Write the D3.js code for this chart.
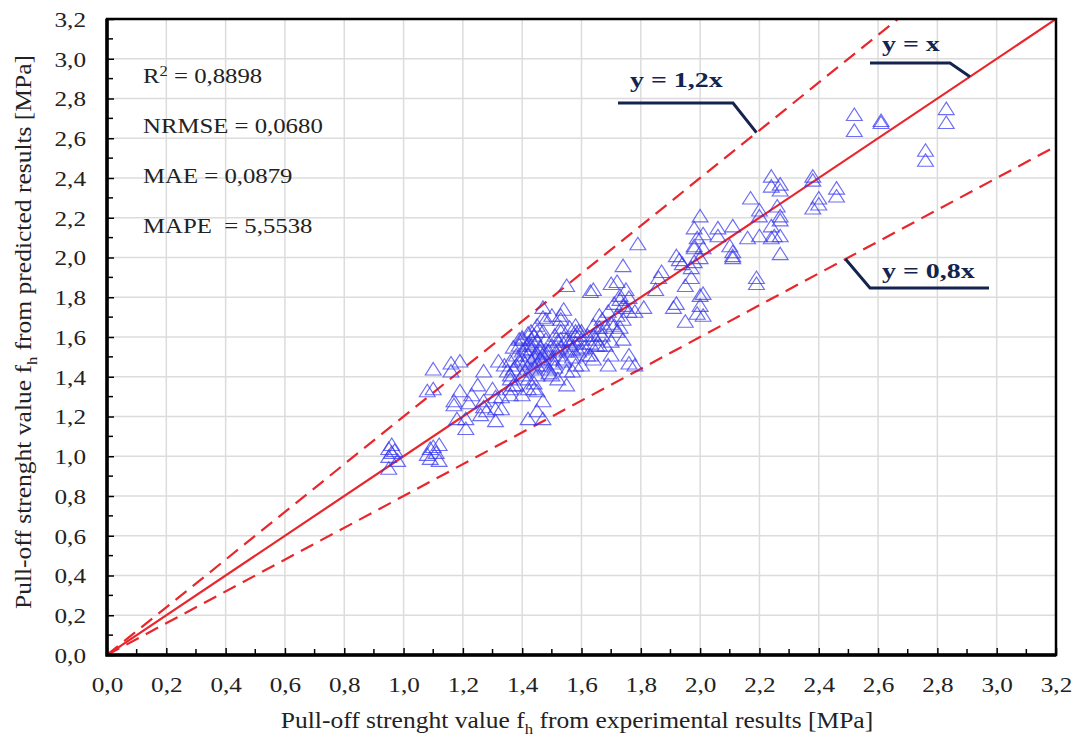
<!DOCTYPE html>
<html>
<head>
<meta charset="utf-8">
<script src="https://cdn.jsdelivr.net/npm/d3@7"></script>
<style>
  body { margin: 0; background: #fff; }
  svg text { font-family: "Liberation Serif", "Times New Roman", serif; }
  .grid line { stroke: #dcdcdc; stroke-width: 1.5; }
  .tick-label { font-size: 21px; fill: #222; }
  .stat { font-size: 21px; fill: #222; }
  .callout { font-size: 22px; font-weight: bold; fill: #14244f; }
</style>
</head>
<body>
<svg width="1075" height="736"></svg>
<script>
// experimental (x) vs predicted (y) pull-off strength
const expValues = [
  0.95, 0.96, 0.97, 0.95, 0.98, 0.95, 0.96,
  1.09, 1.12, 1.09, 1.12, 1.11, 1.08, 1.10,
  1.10, 1.16, 1.19, 1.16, 1.08, 1.10, 1.17, 1.19, 1.17, 1.27, 1.25, 1.23, 1.27, 1.28, 1.31, 1.31,
  1.18, 1.21, 1.26, 1.22, 1.21, 1.30, 1.31, 1.33, 1.27, 1.36, 1.37, 1.32, 1.35, 1.36, 1.33,
  1.36, 1.40, 1.45, 1.47, 1.47, 1.55, 1.42, 1.45, 1.44, 1.42,
  1.55, 1.47, 1.47, 1.54, 1.53, 1.53, 1.58, 1.59, 1.43, 1.40, 1.37, 1.63,
  1.40, 1.43, 1.45, 1.48, 1.52, 1.56, 1.58, 1.36, 1.38, 1.40, 1.43, 1.45, 1.47, 1.49, 1.54, 1.55, 1.58,
  1.38, 1.39, 1.40, 1.41, 1.42, 1.42, 1.43, 1.43, 1.44, 1.44, 1.45, 1.45, 1.46, 1.46, 1.47, 1.47, 1.48, 1.48,
  1.49, 1.50, 1.50, 1.51, 1.51, 1.52, 1.52, 1.53, 1.53, 1.54, 1.55, 1.55, 1.56, 1.56, 1.57, 1.58, 1.58, 1.59,
  1.60, 1.61, 1.62, 1.63, 1.64, 1.65, 1.66, 1.67, 1.68, 1.69, 1.70, 1.71, 1.72, 1.73, 1.74, 1.75, 1.76, 1.72,
  1.40, 1.42, 1.44, 1.37, 1.50, 1.52, 1.57, 1.60, 1.62, 1.64, 1.68, 1.70, 1.45, 1.48, 1.50, 1.53, 1.36, 1.34, 1.38,
  1.41, 1.43, 1.44, 1.46, 1.39, 1.41, 1.48, 1.51, 1.53, 1.42, 1.45, 1.49, 1.57, 1.60, 1.65, 1.39,
  1.79, 1.74, 1.64, 1.70, 1.72, 1.75, 1.73, 1.76, 1.74, 1.81, 1.78,
  1.66, 1.66, 1.67, 1.64, 1.70, 1.71, 1.73, 1.74, 1.76, 1.69, 1.76, 1.60, 1.63, 1.66, 1.78, 1.85,
  1.87, 1.86, 1.92, 1.93, 1.94, 1.97, 1.98, 2.00, 1.98, 1.99, 2.01, 1.97, 1.95, 1.92, 1.91, 1.95,
  2.01, 2.00, 1.99, 2.01, 2.00, 2.00, 1.98, 1.98, 2.01,
  2.10, 2.11, 2.11, 2.16, 2.20, 2.24, 2.27, 2.27, 2.19, 2.19, 2.06, 2.06, 2.11, 2.11,
  2.17, 2.20, 2.20, 2.26, 2.27, 2.27, 2.24, 2.25,
  2.24, 2.24, 2.27, 2.27, 2.38, 2.38, 2.46, 2.46, 2.38, 2.40, 2.40,
  2.52, 2.52, 2.61, 2.61, 2.83, 2.83, 2.76, 2.76
];
const predValues = [
  1.03, 1.05, 1.02, 0.99, 0.97, 0.93, 1.01,
  1.03, 1.05, 0.98, 0.97, 1.01, 1.00, 1.04,
  1.43, 1.46, 1.47, 1.42, 1.32, 1.33, 1.27, 1.32, 1.25, 1.42, 1.35, 1.30, 1.27, 1.22, 1.23, 1.17,
  1.18, 1.18, 1.20, 1.26, 1.13, 1.33, 1.29, 1.23, 1.24, 1.30, 1.35, 1.47, 1.42, 1.38, 1.29,
  1.33, 1.30, 1.32, 1.27, 1.18, 1.35, 1.18, 1.22, 1.33, 1.33,
  1.85, 1.74, 1.69, 1.73, 1.68, 1.64, 1.65, 1.62, 1.62, 1.58, 1.54, 1.82,
  1.59, 1.55, 1.62, 1.53, 1.53, 1.57, 1.60, 1.47, 1.45, 1.48, 1.43, 1.40, 1.47, 1.43, 1.48, 1.42, 1.45,
  1.50, 1.55, 1.52, 1.46, 1.50, 1.56, 1.53, 1.47, 1.60, 1.44, 1.51, 1.57, 1.48, 1.54, 1.62, 1.50, 1.45, 1.58,
  1.52, 1.55, 1.48, 1.60, 1.44, 1.57, 1.50, 1.62, 1.54, 1.47, 1.58, 1.52, 1.64, 1.55, 1.49, 1.56, 1.62, 1.52,
  1.58, 1.54, 1.60, 1.56, 1.65, 1.58, 1.62, 1.68, 1.64, 1.72, 1.66, 1.76, 1.70, 1.78, 1.68, 1.74, 1.72, 1.62,
  1.40, 1.38, 1.36, 1.43, 1.40, 1.38, 1.42, 1.45, 1.50, 1.48, 1.55, 1.50, 1.65, 1.68, 1.70, 1.70, 1.40, 1.45, 1.35,
  1.53, 1.58, 1.49, 1.52, 1.47, 1.42, 1.51, 1.46, 1.58, 1.61, 1.45, 1.41, 1.53, 1.62, 1.55, 1.58,
  2.06, 1.95, 1.83, 1.86, 1.87, 1.83, 1.80, 1.79, 1.75, 1.74, 1.72,
  1.70, 1.64, 1.60, 1.60, 1.57, 1.65, 1.64, 1.58, 1.50, 1.45, 1.46, 1.53, 1.50, 1.55, 1.45, 1.83,
  1.92, 1.89, 2.00, 1.98, 1.96, 1.94, 1.97, 1.99, 2.04, 2.09, 2.11, 1.89, 1.85, 1.76, 1.74, 1.67,
  1.81, 1.75, 1.71, 1.70, 1.80, 2.20, 2.14, 2.05, 2.04,
  2.05, 2.02, 1.99, 2.09, 2.10, 2.09, 2.10, 2.01, 1.89, 1.86, 2.14, 2.10, 2.15, 2.00,
  2.29, 2.23, 2.20, 2.25, 2.20, 2.18, 2.15, 2.10,
  2.40, 2.35, 2.36, 2.33, 2.40, 2.24, 2.34, 2.30, 2.38, 2.29, 2.26,
  2.71, 2.63, 2.68, 2.67, 2.74, 2.67, 2.53, 2.48
];
const points = expValues.map((x, i) => ({ x: x, y: predValues[i] }));

const tickValues = d3.range(0, 3.21, 0.2);
const minorTicks = d3.range(0.1, 3.2, 0.2);
const statLines = ['NRMSE = 0,0680', 'MAE = 0,0879', 'MAPE  = 5,5538'];
const refLines = [
  { k: 1, dashed: false },
  { k: 1.2, dashed: true },
  { k: 0.8, dashed: true }
];

// the source picture is stretched sideways, so text gets a horizontal scale
const SX = 1.2;

const svg = d3.select('svg');
const margin = { left: 107, top: 19, right: 19, bottom: 81 };
const W = 1075 - margin.left - margin.right;
const H = 736 - margin.top - margin.bottom;

const x = d3.scaleLinear().domain([0, 3.2]).range([0, W]);
const y = d3.scaleLinear().domain([0, 3.2]).range([H, 0]);
const fmt = d => d3.format('.1f')(d).replace('.', ',');

const g = svg.append('g').attr('transform', `translate(${margin.left},${margin.top})`);

// grid
g.append('g').attr('class', 'grid')
  .selectAll('line.v').data(tickValues.slice(1, -1)).join('line')
  .attr('x1', d => x(d)).attr('x2', d => x(d)).attr('y1', 0).attr('y2', H);
g.append('g').attr('class', 'grid')
  .selectAll('line.h').data(tickValues.slice(1, -1)).join('line')
  .attr('y1', d => y(d)).attr('y2', d => y(d)).attr('x1', 0).attr('x2', W);

// reference lines, clipped to plot
svg.append('defs').append('clipPath').attr('id', 'plotclip')
  .append('rect').attr('width', W).attr('height', H);
const lines = g.append('g').attr('clip-path', 'url(#plotclip)');
lines.selectAll('line').data(refLines).join('line')
  .attr('x1', x(0)).attr('y1', y(0))
  .attr('x2', d => x(3.2)).attr('y2', d => y(3.2 * d.k))
  .attr('stroke', '#e8262c')
  .attr('stroke-width', 2.2)
  .attr('stroke-dasharray', d => d.dashed ? '14,8' : null);

// points
g.append('g').selectAll('path').data(points).join('path')
  .attr('transform', d => `translate(${x(d.x)},${y(d.y)}) scale(1.1,1)`)
  .attr('d', d3.symbol(d3.symbolTriangle, 90))
  .attr('fill', 'none')
  .attr('stroke', '#3030ee')
  .attr('stroke-opacity', 0.7)
  .attr('stroke-width', 1.1);

// axes with inward ticks
const xAxis = g.append('g').attr('transform', `translate(0,${H})`);
xAxis.call(d3.axisBottom(x).tickValues(tickValues).tickSize(-7).tickFormat(fmt))
  .call(a => a.select('.domain').remove());
xAxis.selectAll('.tick line').attr('stroke', '#000').attr('stroke-width', 1.5);
xAxis.selectAll('.tick text').attr('class', 'tick-label')
  .attr('y', 0).attr('dy', '0.71em')
  .attr('transform', `translate(0,22) scale(${SX},1)`);
xAxis.selectAll('line.minor').data(minorTicks).join('line').attr('class', 'minor')
  .attr('x1', d => x(d)).attr('x2', d => x(d)).attr('y1', 0).attr('y2', -6)
  .attr('stroke', '#000').attr('stroke-width', 1.5);

const yAxis = g.append('g');
yAxis.call(d3.axisLeft(y).tickValues(tickValues).tickSize(-7).tickFormat(fmt))
  .call(a => a.select('.domain').remove());
yAxis.selectAll('.tick line').attr('stroke', '#000').attr('stroke-width', 1.5);
yAxis.selectAll('.tick text').attr('class', 'tick-label')
  .attr('x', 0).attr('dy', '0.35em')
  .attr('transform', `translate(-21,0) scale(${SX},1)`);
yAxis.selectAll('line.minor').data(minorTicks).join('line').attr('class', 'minor')
  .attr('y1', d => y(d)).attr('y2', d => y(d)).attr('x1', 0).attr('x2', 6)
  .attr('stroke', '#000').attr('stroke-width', 1.5);

// frame
g.append('rect').attr('width', W).attr('height', H)
  .attr('fill', 'none').attr('stroke', '#000').attr('stroke-width', 2.5);
g.append('path').attr('d', `M0,0V${H}H${W}`)
  .attr('fill', 'none').attr('stroke', '#000').attr('stroke-width', 3.5);

// stats block
const stats = g.append('g').attr('transform', `translate(36,0) scale(1.18,1)`);
const r2 = stats.append('text').attr('class', 'stat').attr('y', 64);
r2.append('tspan').text('R');
r2.append('tspan').attr('dy', -7).attr('font-size', 14).text('2');
r2.append('tspan').attr('dy', 7).text(' = 0,8898');
stats.selectAll('text.s').data(statLines).join('text').attr('class', 'stat s')
  .attr('y', (d, i) => 114 + i * 50)
  .attr('xml:space', 'preserve')
  .text(d => d);

// callouts with leader lines
const callouts = [
  { label: 'y = 1,2x', tx: 630, ty: 87, pts: [[618, 103], [733, 103]], k: 1.2, at: 2.19 },
  { label: 'y = x', tx: 882, ty: 51, pts: [[870, 63], [950, 63]], k: 1, at: 2.91 },
  { label: 'y = 0,8x', tx: 882, ty: 278, pts: [[989, 288], [870, 288]], k: 0.8, at: 2.49 }
];
callouts.forEach(c => {
  const end = [margin.left + x(c.at), margin.top + y(c.at * c.k)];
  svg.append('path')
    .attr('d', d3.line()([...c.pts, end]))
    .attr('fill', 'none').attr('stroke', '#14244f').attr('stroke-width', 3);
  svg.append('text').attr('class', 'callout')
    .attr('transform', `translate(${c.tx},${c.ty}) scale(1.27,1)`)
    .text(c.label);
});

// axis titles
const xt = svg.append('text')
  .attr('transform', `translate(577,728) scale(1.11,1)`)
  .attr('text-anchor', 'middle').attr('font-size', 23).attr('fill', '#222');
xt.append('tspan').text('Pull-off strenght value f');
xt.append('tspan').attr('dy', 6).attr('font-size', 15).text('h');
xt.append('tspan').attr('dy', -6).text(' from experimental results [MPa]');

const yt = svg.append('text')
  .attr('transform', `translate(31,332) rotate(-90) scale(1.11,1)`)
  .attr('text-anchor', 'middle').attr('font-size', 23).attr('fill', '#222');
yt.append('tspan').text('Pull-off strenght value f');
yt.append('tspan').attr('dy', 6).attr('font-size', 15).text('h');
yt.append('tspan').attr('dy', -6).text(' from predicted results [MPa]');
</script>
</body>
</html>
